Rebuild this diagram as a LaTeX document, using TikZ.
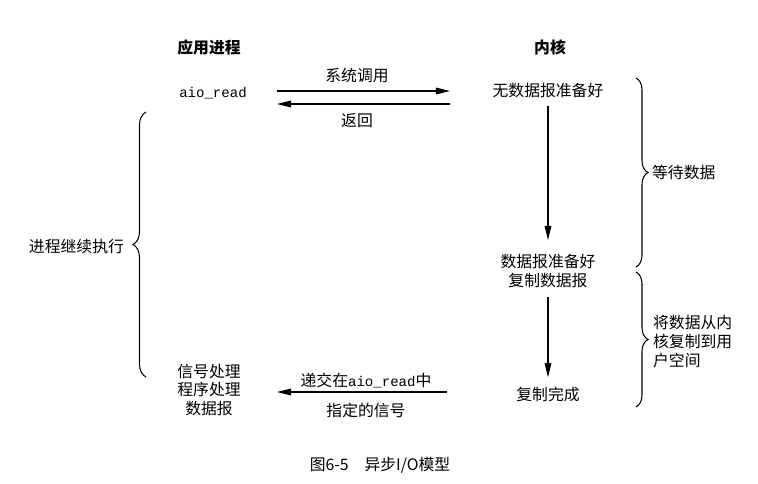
\documentclass[tikz,border=0pt]{standalone}
\usepackage{fontspec}
\setmainfont{Noto Sans CJK SC}
\setmonofont{Liberation Mono}
\usetikzlibrary{arrows.meta,decorations.pathreplacing}
\newcommand{\aioread}{{\ttfamily\fontsize{8pt}{10.8pt}\selectfont aio\_read}}

\begin{document}
\begin{tikzpicture}
\tikzset{texte/.style={font=\fontsize{9pt}{10.8pt}\selectfont, inner sep=1pt, align=center},
titre/.style={texte, font=\fontsize{9pt}{10.8pt}\selectfont\bfseries},
fleche/.style={-{Triangle[length=8pt,width=3.8pt]}, line width=0.6pt},
accolade/.style={decorate, decoration={brace, amplitude=0.24cm}, line width=0.6pt}}
\useasboundingbox (0,0) rectangle (15.16,9.66);
\node[titre] (P) at (4.18,8.72) {应用进程};
\node[titre] (K) at (11.0,8.72) {内核};
\node[texte] (R) at (4.26,7.80) {\aioread};
\node[texte] (N1) at (10.96,7.86) {无数据报准备好};
\node[texte] (N2) at (10.96,4.24) {数据报准备好\\复制数据报};
\node[texte] (N3) at (10.96,1.78) {复制完成};
\node[texte] (S) at (4.18,1.86) {信号处理\\程序处理\\数据报};
\coordinate (C1) at (5.54,7.84);
\coordinate (C2) at (9.00,7.84);
\coordinate (C3) at (9.00,7.58);
\coordinate (C4) at (5.54,7.58);
\coordinate (C5) at (8.94,1.82);
\coordinate (C6) at (5.54,1.82);
\coordinate (A1) at (10.96,4.86);
\draw[fleche] (C1) -- (C2);
\draw[fleche] (C3) -- (C4);
\draw[fleche] (C5) -- (C6);
\node[texte] (L1) at (7.14,8.16) {系统调用};
\node[texte] (L2) at (7.14,7.24) {返回};
\node[texte] (L3) at (7.32,2.04) {递交在\aioread 中};
\node[texte] (L4) at (7.32,1.46) {指定的信号};
\draw[fleche, shorten <=0.125cm] (N1) -- (A1);
\draw[fleche, shorten <=0.15cm, shorten >=0.145cm] (N2) -- (N3);
\coordinate (B1) at (12.72,8.10);
\coordinate (B2) at (12.72,4.32);
\coordinate (B3) at (12.72,4.22);
\coordinate (B4) at (12.72,1.52);
\coordinate (B5) at (2.92,2.12);
\coordinate (B6) at (2.92,7.42);
\draw[accolade] (B1) -- (B2);
\draw[accolade] (B3) -- (B4);
\draw[accolade, decoration={amplitude=0.26cm}] (B5) -- (B6);
\node[texte, anchor=west] (W) at (13.0,6.22) {等待数据};
\node[texte, anchor=west, align=left] (D) at (13.02,2.82) {将数据从内\\核复制到用\\户空间};
\node[texte, anchor=east] (E) at (2.52,4.72) {进程继续执行};
\node[texte] (F) at (7.6,0.36) {图6-5\quad 异步I/O模型};
\end{tikzpicture}
\end{document}
